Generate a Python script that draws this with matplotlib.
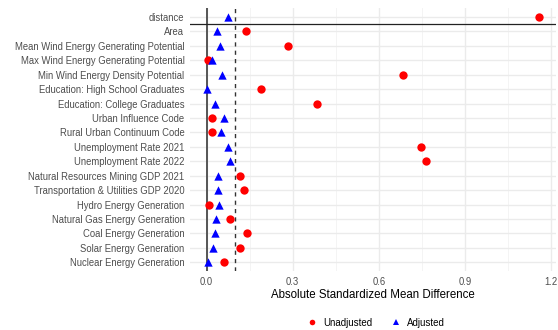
import numpy as np
import matplotlib
matplotlib.use("Agg")
from matplotlib import pyplot as plt
from matplotlib.lines import Line2D

plt.rcParams['font.family'] = ['Liberation Sans', 'DejaVu Sans']

covariates = [
    "distance",
    "Area",
    "Mean Wind Energy Generating Potential",
    "Max Wind Energy Generating Potential",
    "Min Wind Energy Density Potential",
    "Education: High School Graduates",
    "Education: College Graduates",
    "Urban Influence Code",
    "Rural Urban Continuum Code",
    "Unemployment Rate 2021",
    "Unemployment Rate 2022",
    "Natural Resources Mining GDP 2021",
    "Transportation & Utilities GDP 2020",
    "Hydro Energy Generation",
    "Natural Gas Energy Generation",
    "Coal Energy Generation",
    "Solar Energy Generation",
    "Nuclear Energy Generation",
]
unadjusted = [1.16, 0.138, 0.282, 0.006, 0.686, 0.188, 0.384, 0.020, 0.019,
              0.746, 0.766, 0.118, 0.132, 0.009, 0.080, 0.139, 0.118, 0.060]
adjusted = [0.074, 0.036, 0.046, 0.018, 0.052, 0.000, 0.030, 0.059, 0.050,
            0.075, 0.080, 0.041, 0.039, 0.044, 0.032, 0.030, 0.023, 0.004]
threshold = 0.1
xticks = [0.0, 0.3, 0.6, 0.9, 1.2]

W, H = 558, 330
fig = plt.figure(figsize=(W / 100, H / 100), dpi=100)
ax = fig.add_axes([190 / W, 1 - 271 / H, (556 - 190) / W, (271 - 8.3) / H])

n = len(covariates)
ypos = np.arange(n)[::-1]

# grid
for x in xticks:
    ax.axvline(x, color="#EBEBEB", lw=1.0, zorder=0)
for x in [0.15, 0.45, 0.75, 1.05]:
    ax.axvline(x, color="#F2F2F2", lw=0.6, zorder=0)
for y in ypos:
    ax.axhline(y, color="#EBEBEB", lw=1.0, zorder=0)

ax.axvline(0, color="#555555", lw=1.4, zorder=1)
ax.axvline(threshold, color="#333333", lw=1.0, ls=(0, (3, 3)), zorder=1)
ax.axhline(n - 1.5, color="#222222", lw=0.9, zorder=1)

ax.scatter(unadjusted, ypos, s=36, marker="o", color="#FF0000", linewidths=0, zorder=3)
ax.scatter(adjusted, ypos, s=36, marker="^", color="#0000FF", linewidths=0, zorder=4)

ax.set_xlim(-0.058, 1.218)
ax.set_ylim(-0.6, n - 0.4)
ax.set_yticks(ypos)
ax.set_yticklabels(covariates)
ax.set_xticks(xticks)
ax.set_xticklabels([f"{x:.1f}" for x in xticks])
ax.tick_params(axis="both", length=0, labelsize=6.85, labelcolor="#4D4D4D")
ax.tick_params(axis="y", pad=4)
ax.tick_params(axis="x", pad=4)
for s in ax.spines.values():
    s.set_visible(False)
ax.set_xlabel("Absolute Standardized Mean Difference", fontsize=8.3, color="black", labelpad=2)

handles = [
    Line2D([], [], marker="o", ls="", color="#FF0000", markersize=4, markeredgewidth=0),
    Line2D([], [], marker="^", ls="", color="#0000FF", markersize=4, markeredgewidth=0),
]
fig.legend(handles, ["Unadjusted", "Adjusted"], loc="center", bbox_to_anchor=(376 / W, 1 - 322.5 / H),
           ncol=2, frameon=False, fontsize=7.0, handletextpad=0.6, columnspacing=2.0,
           handlelength=1.0)

fig.savefig("out.png", dpi=100, facecolor="white")
